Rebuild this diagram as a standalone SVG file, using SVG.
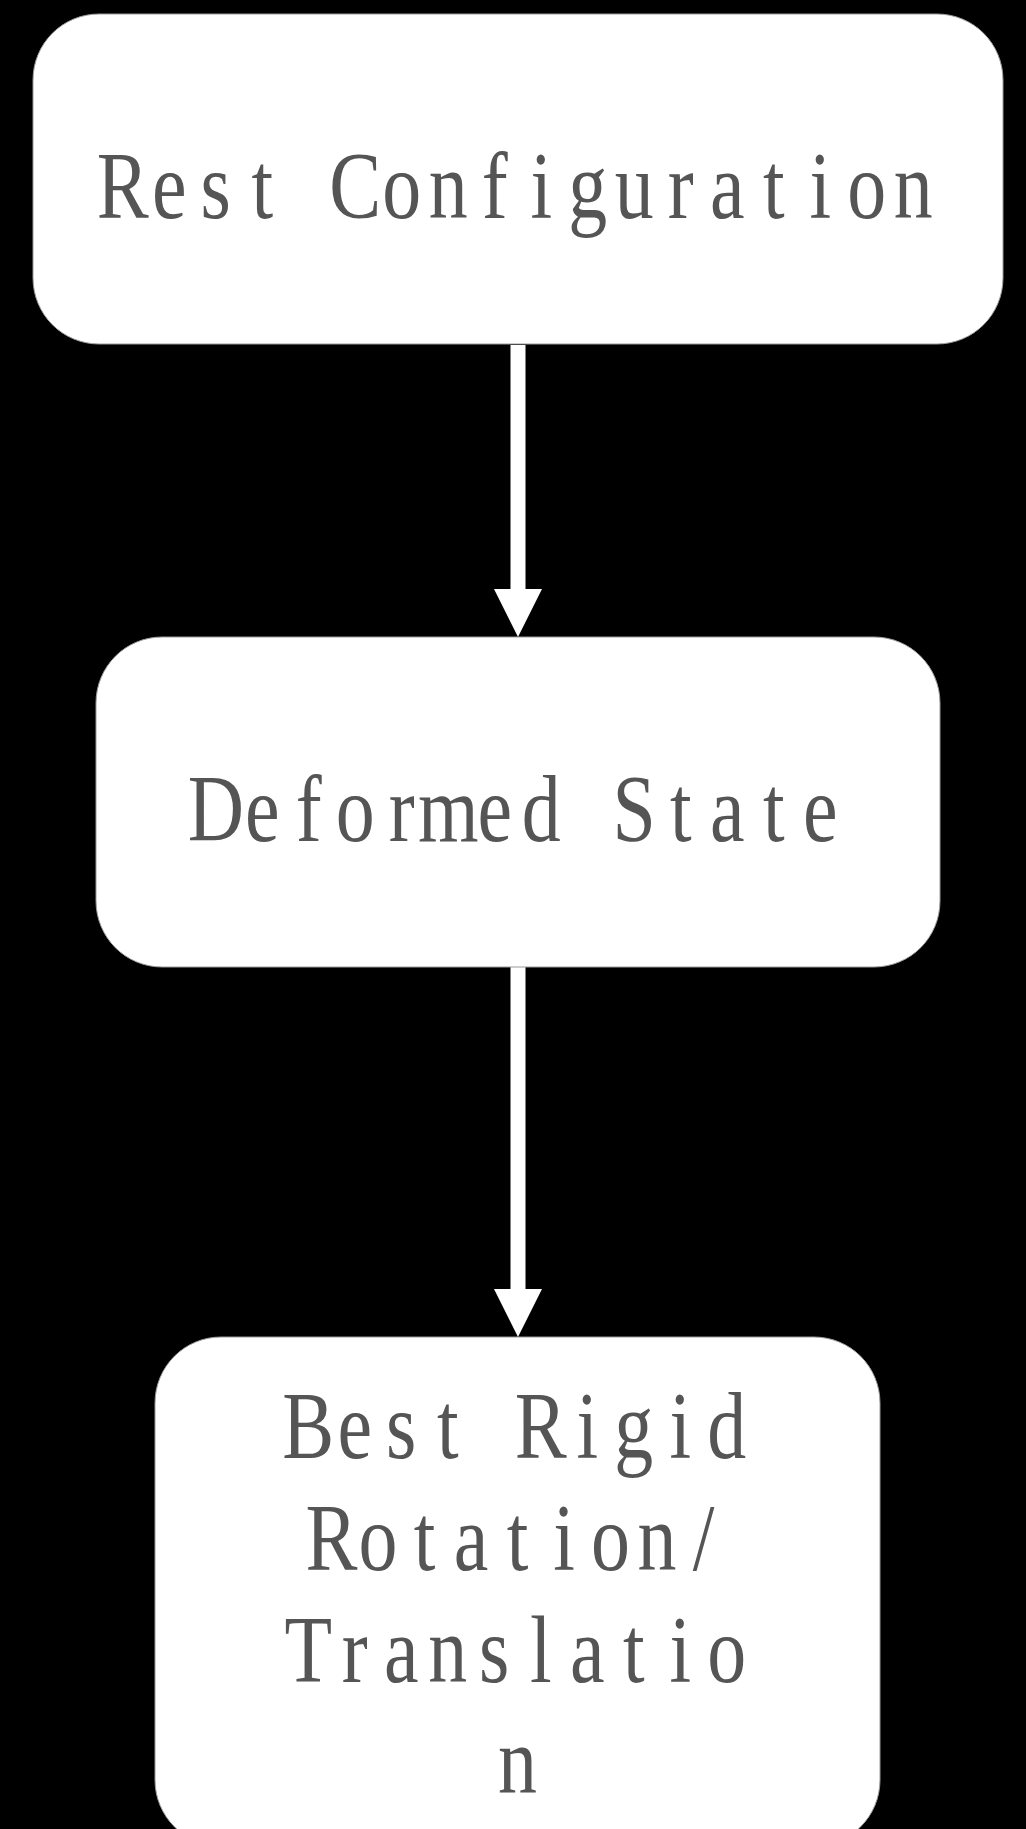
<svg xmlns="http://www.w3.org/2000/svg" width="1026" height="1829" viewBox="0 0 1026 1829">
  <style>
    .box { fill: #ffffff; stroke: #9a9a9a; stroke-width: 1; }
    /* serif glyphs set on a fixed 46.5px grid, condensed horizontally */
    .label { font-family: "Liberation Serif", "DejaVu Serif", serif; font-size: 95px; fill: #555555; text-anchor: middle; }
    .edge { stroke: #ffffff; stroke-width: 15; fill: none; }
  </style>
  <defs>
    <marker id="arrowhead" viewBox="0 0 48 48" refX="0" refY="24" markerWidth="48" markerHeight="48" markerUnits="userSpaceOnUse" orient="auto">
      <path d="M0,0 L48,24 L0,48 Z" fill="#ffffff"/>
    </marker>
  </defs>
  <rect x="0" y="0" width="1026" height="1829" fill="#000000"/>

  <g id="connectors">
    <line class="edge" x1="518" y1="345" x2="518" y2="589" marker-end="url(#arrowhead)"/>
    <line class="edge" x1="518" y1="967" x2="518" y2="1289" marker-end="url(#arrowhead)"/>
  </g>

  <g id="node-rest">
    <rect class="box" x="33" y="14" width="970" height="330" rx="66" ry="66"/>
    <text class="label" transform="translate(518,218) scale(0.82,1)" x="-482 -425.3 -368.6 -311.9 -255.2 -198.5 -141.8 -85.1 -28.4 28.4 85.1 141.8 198.5 255.2 311.9 368.6 425.3 482" y="0">Rest Configuration</text>
  </g>

  <g id="node-deformed">
    <rect class="box" x="96" y="637" width="844" height="330" rx="66" ry="66"/>
    <text class="label" transform="translate(518,841) scale(0.82,1)" x="-368.6 -311.9 -255.2 -198.5 -141.8 -85.1 -28.4 28.4 85.1 141.8 198.5 255.2 311.9 368.6" y="0">Deformed State</text>
  </g>

  <g id="node-rigid">
    <rect class="box" x="155" y="1337" width="725" height="509" rx="66" ry="66"/>
    <text class="label" transform="translate(517.5,1458) scale(0.82,1)" x="-255.2 -198.5 -141.8 -85.1 -28.4 28.4 85.1 141.8 198.5 255.2" y="0">Best Rigid</text>
    <text class="label" transform="translate(517.5,1570) scale(0.82,1)" x="-226.8 -170.1 -113.4 -56.7 0 56.7 113.4 170.1 226.8" y="0">Rotation/</text>
    <text class="label" transform="translate(517.5,1682) scale(0.82,1)" x="-255.2 -198.5 -141.8 -85.1 -28.4 28.4 85.1 141.8 198.5 255.2" y="0">Translatio</text>
    <text class="label" transform="translate(517.5,1793) scale(0.82,1)" x="0" y="0">n</text>
  </g>
</svg>
